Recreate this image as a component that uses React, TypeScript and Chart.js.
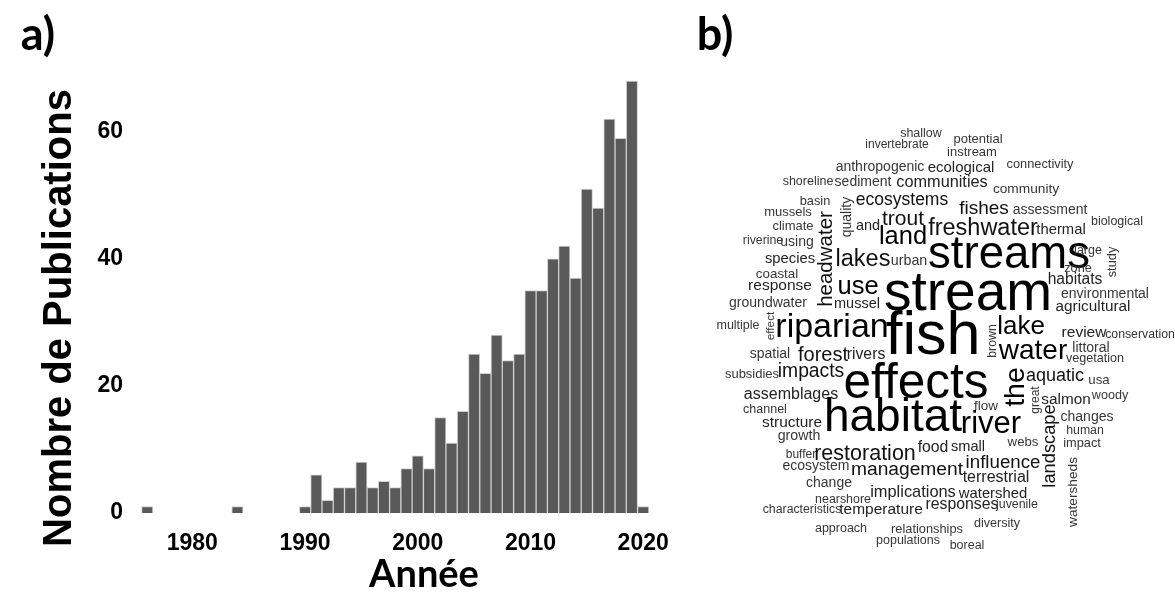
import React, { useEffect, useRef } from "react";
import { Chart, registerables } from "chart.js";
Chart.register(...registerables);

// ---- Panel a: publications per year ----
const years = [1976, 1984, 1990, 1991, 1992, 1993, 1994, 1995, 1996, 1997, 1998, 1999, 2000, 2001, 2002, 2003, 2004, 2005, 2006, 2007, 2008, 2009, 2010, 2011, 2012, 2013, 2014, 2015, 2016, 2017, 2018, 2019, 2020];
const publications = [1, 1, 1, 6, 2, 4, 4, 8, 4, 5, 4, 7, 9, 7, 15, 11, 16, 25, 22, 28, 24, 25, 35, 35, 40, 42, 37, 51, 48, 62, 59, 68, 1];
const xTickValues = [1980, 1990, 2000, 2010, 2020];
const yTickValues = [0, 20, 40, 60];

// ---- Panel b: word cloud (word, layout x, layout y, frequency-size, rotated) ----
const words = ["shallow", "invertebrate", "potential", "instream", "anthropogenic", "ecological", "connectivity", "shoreline", "sediment", "communities", "community", "basin", "ecosystems", "quality", "mussels", "climate", "headwater", "and", "trout", "land", "fishes", "assessment", "biological", "freshwater", "thermal", "riverine", "using", "species", "lakes", "urban", "streams", "large", "study", "zone", "coastal", "response", "use", "habitats", "stream", "environmental", "groundwater", "mussel", "agricultural", "multiple", "effect", "riparian", "fish", "lake", "review", "conservation", "brown", "littoral", "spatial", "forest", "rivers", "water", "vegetation", "subsidies", "impacts", "aquatic", "usa", "assemblages", "effects", "the", "salmon", "woody", "channel", "habitat", "river", "great", "flow", "changes", "structure", "human", "growth", "impact", "buffer", "restoration", "food", "small", "webs", "landscape", "ecosystem", "management", "influence", "terrestrial", "change", "implications", "watershed", "watersheds", "nearshore", "temperature", "responses", "juvenile", "characteristics", "approach", "relationships", "diversity", "populations", "boreal"];
const wordX = [921, 897, 978, 972, 880, 961, 1040, 808, 863, 942, 1026, 815, 902, 847, 788, 793, 826, 868, 903, 903, 984, 1050, 1117, 983, 1061, 763, 797, 790, 863, 909, 1009, 1088, 1112, 1078, 777, 780, 858, 1075, 968, 1105, 768, 857, 1093, 738, 771, 832, 933, 1021, 1084, 1140, 993, 1091, 770, 823, 866, 1033, 1095, 752, 811, 1055, 1099, 791, 916, 1016, 1066, 1110, 765, 893, 991, 1036, 986, 1087, 792, 1085, 799, 1082, 801, 865, 933, 968, 1023, 1050, 816, 907, 1003, 996, 829, 913, 993, 1073, 843, 881, 962, 1017, 802, 841, 927, 997, 908, 967];
const wordY = [134, 145, 139, 152, 167, 168, 164, 182, 182, 183, 189, 201, 200, 217, 212, 226, 259, 226, 219, 237, 209, 210, 222, 229, 230, 241, 242, 259, 260, 261, 255, 251, 262, 268, 274, 286, 287, 280, 295, 294, 303, 304, 307, 326, 326, 328, 337, 327, 333, 335, 341, 348, 354, 355, 355, 351, 359, 374, 372, 376, 380, 395, 384, 387, 400, 396, 410, 418, 424, 400, 406, 417, 423, 431, 436, 443, 455, 454, 448, 447, 442, 446, 466, 470, 463, 478, 483, 492, 494, 492, 500, 510, 505, 505, 510, 529, 529, 524, 541, 546];
const wordSize = [12.5, 12, 13, 13, 14, 15, 12.8, 12.5, 14, 16.3, 13.7, 12.8, 17.5, 14, 13, 13, 20.5, 14.5, 21, 25.5, 19, 14, 12.5, 23.5, 14.8, 12.3, 14, 14.8, 23.5, 14.3, 45.5, 12.5, 12.8, 12.7, 13.4, 15.5, 25.5, 15.6, 55, 14, 14, 14.5, 15.3, 12.5, 11.8, 34, 61, 26, 15.5, 12.3, 12.3, 14, 14, 20, 15.8, 28, 12.6, 13, 19.3, 18, 13.3, 16, 49.5, 28.5, 15.3, 12.6, 12.5, 46, 31, 12, 13.5, 14, 15.4, 12.3, 14.2, 12.8, 12, 21.5, 15.8, 14.6, 13.2, 18.3, 14, 19.2, 18.7, 16, 14, 16.4, 14.8, 13.7, 12.4, 15.5, 15.8, 12.4, 12.3, 12.5, 12.8, 12.6, 12.5, 12.5];
const wordRotated = ["quality", "headwater", "study", "effect", "brown", "the", "great", "landscape", "watersheds"];

function wordColor(size: number): string {
  if (size >= 25) return "#000000";
  if (size >= 17) return "#111111";
  if (size >= 14.5) return "#222222";
  return "#363636";
}

const wordPlugin = {
  id: "wordText",
  afterDatasetsDraw(chart: any) {
    const ctx = chart.ctx;
    const meta = chart.getDatasetMeta(0);
    meta.data.forEach((pt: any, i: number) => {
      ctx.save();
      ctx.translate(pt.x, pt.y);
      if (wordRotated.includes(words[i])) ctx.rotate(-Math.PI / 2);
      ctx.font = `${wordSize[i]}px "Liberation Sans", Arial, sans-serif`;
      ctx.fillStyle = wordColor(wordSize[i]);
      ctx.textAlign = "center";
      ctx.textBaseline = "middle";
      ctx.fillText(words[i], 0, 0);
      ctx.restore();
    });
  },
};

const tickFont = { family: '"Liberation Sans", Arial, sans-serif', size: 23, weight: "bold" as const };

export default function App() {
  const barRef = useRef<HTMLCanvasElement>(null);
  const cloudRef = useRef<HTMLCanvasElement>(null);

  useEffect(() => {
    const bar = new Chart(barRef.current as HTMLCanvasElement, {
      type: "bar",
      data: {
        datasets: [
          {
            data: years.map((y, i) => ({ x: y, y: publications[i] })),
            backgroundColor: "#595959",
            borderColor: "#cfcfcf",
            borderWidth: 1,
            barPercentage: 1,
            categoryPercentage: 1,
          },
        ],
      },
      options: {
        responsive: false,
        animation: false,
        devicePixelRatio: 1,
        layout: { padding: { left: 10, top: 62, right: 12, bottom: 43.5 } },
        plugins: { legend: { display: false }, tooltip: { enabled: false } },
        scales: {
          x: {
            type: "linear",
            offset: false,
            min: 1974.47,
            max: 2022.2,
            grid: { display: false, drawTicks: false },
            border: { display: false },
            afterBuildTicks: (s: any) => {
              s.ticks = xTickValues.map((v) => ({ value: v }));
            },
            afterFit: (s: any) => {
              s.height = 40;
            },
            ticks: {
              color: "#000",
              font: tickFont,
              padding: 7,
              maxRotation: 0,
              autoSkip: false,
              callback: (v: any) => String(v),
            },
          },
          y: {
            type: "linear",
            min: -1.5,
            max: 71,
            grid: { display: false, drawTicks: false },
            border: { display: false },
            afterBuildTicks: (s: any) => {
              s.ticks = yTickValues.map((v) => ({ value: v }));
            },
            afterFit: (s: any) => {
              s.width = 120;
            },
            ticks: {
              color: "#000",
              font: tickFont,
              padding: 7,
              callback: (v: any) => String(v),
            },
          },
        },
      },
    } as any);

    const cloud = new Chart(cloudRef.current as HTMLCanvasElement, {
      type: "scatter",
      data: {
        datasets: [
          {
            data: words.map((w, i) => ({ x: wordX[i], y: wordY[i] })),
            pointRadius: 0,
            pointHoverRadius: 0,
          },
        ],
      },
      options: {
        responsive: false,
        animation: false,
        devicePixelRatio: 1,
        layout: { padding: 0 },
        plugins: { legend: { display: false }, tooltip: { enabled: false } },
        scales: {
          x: { type: "linear", min: 680, max: 1175, display: false },
          y: { type: "linear", min: 0, max: 606, reverse: true, display: false },
        },
      },
      plugins: [wordPlugin],
    } as any);

    return () => {
      bar.destroy();
      cloud.destroy();
    };
  }, []);

  const label = (extra: React.CSSProperties): React.CSSProperties => ({
    position: "absolute",
    whiteSpace: "nowrap",
    lineHeight: "1",
    color: "#000",
    fontWeight: "bold",
    transform: "translate(-50%, -50%)",
    ...extra,
  });

  return (
    <div style={{ position: "absolute", left: 0, top: 0, width: 1175, height: 606, background: "#fff", overflow: "hidden" }}>
      <canvas ref={barRef} width={680} height={606} style={{ position: "absolute", left: 0, top: 0, width: 680, height: 606 }} />
      <canvas ref={cloudRef} width={495} height={606} style={{ position: "absolute", left: 680, top: 0, width: 495, height: 606 }} />
      <div style={label({ left: 38, top: 33, fontFamily: "Lato, 'Open Sans', sans-serif", fontSize: 45 })}>a)</div>
      <div style={label({ left: 715, top: 33, fontFamily: "Lato, 'Open Sans', sans-serif", fontSize: 45 })}>b)</div>
      <div style={label({ left: 424, top: 572, fontFamily: "Lato, 'Open Sans', sans-serif", fontSize: 38 })}>Année</div>
      <div
        style={label({
          left: 57,
          top: 318,
          fontFamily: "'Liberation Sans', Arial, sans-serif",
          fontSize: 40,
          transform: "translate(-50%, -50%) rotate(-90deg)",
        })}
      >
        Nombre de Publications
      </div>
    </div>
  );
}
